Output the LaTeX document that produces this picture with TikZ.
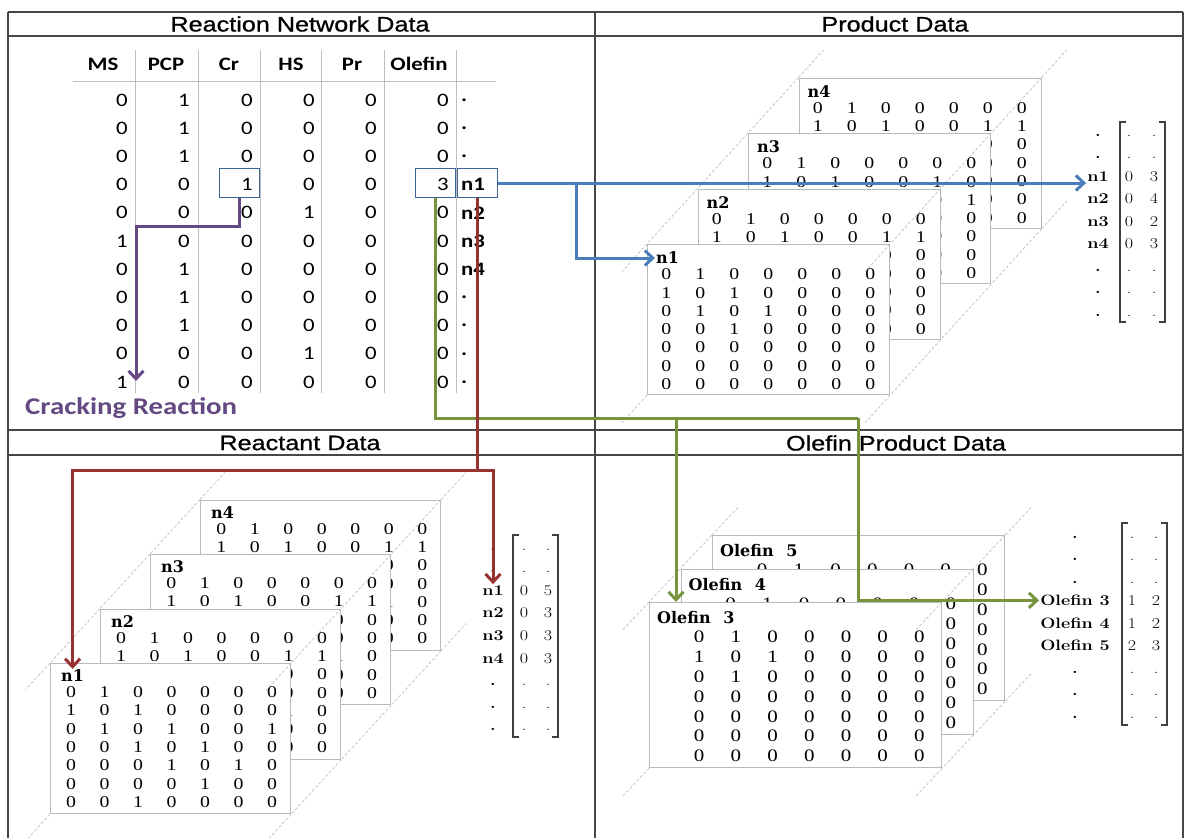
\documentclass[tikz,border=0pt]{standalone}
\usepackage{fontspec}
\newfontfamily\titlefont{Liberation Sans}[FakeStretch=1.2,FakeBold=0.8]
\newfontfamily\tabfont{Carlito}[FakeStretch=1.2]
\newfontfamily\matfont{Liberation Serif}[FakeStretch=1.2]
\newfontfamily\lblfont{DejaVu Serif}
\newfontfamily\vecfont{Latin Modern Roman}[FakeStretch=1.2]
\usetikzlibrary{arrows.meta,matrix}
\definecolor{netblue}{RGB}{74,126,187}
\definecolor{hitblue}{RGB}{60,100,150}
\definecolor{crackpurple}{RGB}{100,73,130}
\definecolor{reactred}{RGB}{150,50,48}
\definecolor{olegreen}{RGB}{119,147,60}
\definecolor{gridgray}{RGB}{190,190,190}
\definecolor{framegray}{RGB}{70,70,70}
\begin{document}
\begin{tikzpicture}[x=1pt,y=-1pt,
  >={Straight Barb[length=8pt,width=15pt]},
  frame/.style={draw=framegray, line width=1.3pt},
  title/.style={font=\titlefont\fontsize{21}{24}\selectfont, inner sep=0pt},
  colhead/.style={font=\tabfont\bfseries\fontsize{19}{22}\selectfont, inner sep=0pt},
  num/.style={font=\tabfont\fontsize{19}{22}\selectfont, inner sep=0pt, anchor=east},
  tag/.style={font=\tabfont\bfseries\fontsize{19}{22}\selectfont, inner sep=0pt, anchor=west},
  hit/.style={draw=hitblue, line width=1pt, minimum width=40pt, minimum height=29pt, inner sep=0pt},
  panel/.style={draw=gray!55, line width=1.2pt, fill=white, anchor=north west, inner sep=0pt},
  ppanel/.style={panel, minimum width=242pt, minimum height=150pt},
  rpanel/.style={panel, minimum width=240pt, minimum height=150pt},
  opanel/.style={panel, minimum width=292pt, minimum height=165pt},
  plabel/.style={font=\lblfont\bfseries\fontsize{16}{18}\selectfont, inner sep=1pt, anchor=west},
  guide/.style={draw=gray!50, line width=0.7pt, dash pattern=on 3pt off 2pt},
  pmat/.style={matrix of nodes, anchor=north west, inner sep=0pt,
    nodes={font=\matfont\fontsize{16.5}{18}\selectfont, inner sep=0pt, minimum width=34pt, minimum height=18.3pt, anchor=center}},
  rmat/.style={pmat, nodes={minimum width=33.5pt}},
  omat/.style={pmat, nodes={font=\matfont\fontsize{17.5}{19}\selectfont, minimum width=36.7pt, minimum height=19.8pt}},
  vlab/.style={font=\vecfont\bfseries\fontsize{15}{18}\selectfont, inner sep=1pt, anchor=base},
  vnum/.style={font=\vecfont\fontsize{15}{18}\selectfont, inner sep=0pt, anchor=base},
  bracket/.style={draw=black!75, line width=1.2pt},
  flowblue/.style={draw=netblue, line width=3pt},
  flowpurple/.style={draw=crackpurple, line width=3pt},
  flowred/.style={draw=reactred, line width=3pt},
  flowgreen/.style={draw=olegreen, line width=3pt}]
\fill[white] (0,0) rectangle (1187,838);
\useasboundingbox (0,0) rectangle (1187,838);

% frame
\draw[frame] (8,12) -- (1183,12);
\draw[frame] (8,36) -- (1183,36);
\draw[frame] (8,430) -- (1183,430);
\draw[frame] (8,455) -- (1183,455);
\draw[frame] (8,12) -- (8,838);
\draw[frame] (595,12) -- (595,838);
\draw[frame] (1183,12) -- (1183,838);
\node[title] (tnet) at (300,24) {Reaction Network Data};
\node[title] (tprod) at (895,24) {Product Data};
\node[title] (treac) at (300,443) {Reactant Data};
\node[title] (tole) at (896,443) {Olefin Product Data};

% reaction network table
\foreach \x in {135,198,260,321,384,456}
  \draw[gridgray, line width=1pt] (\x,50) -- (\x,393);
\draw[gridgray, line width=1pt] (73,81) -- (496,81);
\node[colhead] (hMS) at (103,64) {MS};
\node[colhead] (hPCP) at (166,64) {PCP};
\node[colhead] (hCr) at (229,64) {Cr};
\node[colhead] (hHS) at (291,64) {HS};
\node[colhead] (hPr) at (352,64) {Pr};
\node[colhead] (hOl) at (419,64) {Olefin};
\foreach \i/\xa/\xb/\xc/\xd/\xe/\xf/\tg in {0/0/1/0/0/0/0/., 1/0/1/0/0/0/0/., 2/0/1/0/0/0/0/.,
    3/0/0/1/0/0/3/n1, 4/0/0/0/1/0/0/n2, 5/1/0/0/0/0/0/n3, 6/0/1/0/0/0/0/n4,
    7/0/1/0/0/0/0/., 8/0/1/0/0/0/0/., 9/0/0/0/1/0/0/., 10/1/0/0/0/0/0/.}{
  \pgfmathsetmacro\ry{100+28.2*\i}
  \node[num] (ms\i) at (128,\ry) {\xa};
  \node[num] (pcp\i) at (190,\ry) {\xb};
  \node[num] (cr\i) at (253,\ry) {\xc};
  \node[num] (hs\i) at (315,\ry) {\xd};
  \node[num] (pr\i) at (377,\ry) {\xe};
  \node[num] (ol\i) at (449,\ry) {\xf};
  \node[tag] (tg\i) at (461,\ry) {\tg};
}
\node[hit] (hitCr) at (239,183) {};
\node[hit] (hitOl) at (435,183) {};
\node[hit] (hitN1) at (477,183) {};
\node[font=\tabfont\bfseries\fontsize{24}{27}\selectfont, text=crackpurple, anchor=base west, inner sep=0pt] (crack) at (25,414) {Cracking Reaction};

% product data stack
\node[ppanel] (pn4) at (798.5,77.5) {};
\node[plabel] (pl4) at (806.5,91.5) {n4};
\matrix[pmat] (pm4) at (800.5,98.5) {
0 & 1 & 0 & 0 & 0 & 0 & 0 \\
1 & 0 & 1 & 0 & 0 & 1 & 1 \\
0 & 1 & 0 & 1 & 0 & 0 & 0 \\
0 & 0 & 1 & 0 & 0 & 0 & 0 \\
0 & 0 & 0 & 0 & 0 & 0 & 0 \\
0 & 0 & 0 & 0 & 0 & 0 & 0 \\
0 & 0 & 0 & 0 & 0 & 0 & 0 \\
};
\foreach \c in {north west,north east,south east}
  \draw[guide] (pn4.\c) -- ++(25,-27.5);
\foreach \c in {north west,north east,south east,south west}
  \draw[guide] (pn4.\c) -- ++(-50.5,55.5);
\node[ppanel] (pn3) at (748,133) {};
\node[plabel] (pl3) at (756,147) {n3};
\matrix[pmat] (pm3) at (750,154) {
0 & 1 & 0 & 0 & 0 & 0 & 0 \\
1 & 0 & 1 & 0 & 0 & 1 & 0 \\
0 & 1 & 0 & 1 & 0 & 0 & 1 \\
0 & 0 & 1 & 0 & 0 & 0 & 0 \\
0 & 0 & 0 & 0 & 0 & 0 & 0 \\
0 & 0 & 0 & 0 & 0 & 0 & 0 \\
0 & 0 & 0 & 0 & 0 & 0 & 0 \\
};
\foreach \c in {north west,north east,south east,south west}
  \draw[guide] (pn3.\c) -- ++(-50.5,55.5);
\node[ppanel] (pn2) at (697.5,188.5) {};
\node[plabel] (pl2) at (705.5,202.5) {n2};
\matrix[pmat] (pm2) at (699.5,209.5) {
0 & 1 & 0 & 0 & 0 & 0 & 0 \\
1 & 0 & 1 & 0 & 0 & 1 & 1 \\
0 & 1 & 0 & 1 & 0 & 0 & 0 \\
0 & 0 & 1 & 0 & 0 & 0 & 0 \\
0 & 0 & 0 & 0 & 0 & 0 & 0 \\
0 & 0 & 0 & 0 & 0 & 0 & 0 \\
0 & 0 & 0 & 0 & 0 & 0 & 0 \\
};
\foreach \c in {north west,north east,south east,south west}
  \draw[guide] (pn2.\c) -- ++(-50.5,55.5);
\node[ppanel] (pn1) at (647,244) {};
\node[plabel] (pl1) at (655,258) {n1};
\matrix[pmat] (pm1) at (649,265) {
0 & 1 & 0 & 0 & 0 & 0 & 0 \\
1 & 0 & 1 & 0 & 0 & 0 & 0 \\
0 & 1 & 0 & 1 & 0 & 0 & 0 \\
0 & 0 & 1 & 0 & 0 & 0 & 0 \\
0 & 0 & 0 & 0 & 0 & 0 & 0 \\
0 & 0 & 0 & 0 & 0 & 0 & 0 \\
0 & 0 & 0 & 0 & 0 & 0 & 0 \\
};
\foreach \c in {north west,north east,south east,south west}
  \draw[guide] (pn1.\c) -- ++(-25,27.5);

% product vector
\foreach \i/\lb/\va/\vb in {0/././., 1/././., 2/n1/0/3, 3/n2/0/4, 4/n3/0/2, 5/n4/0/3, 6/././., 7/././., 8/././.}{
  \pgfmathsetmacro\vy{136+22.5*\i}
  \node[vlab] (pv\i-0) at (1098,\vy) {\lb};
  \node[vnum] (pv\i-1) at (1129,\vy) {\va};
  \node[vnum] (pv\i-2) at (1154,\vy) {\vb};
}
\draw[bracket] (1126,122) -- (1120,122) -- (1120,322) -- (1126,322);
\draw[bracket] (1159,122) -- (1165,122) -- (1165,322) -- (1159,322);

% reactant data stack
\node[rpanel] (rn4) at (200,499.5) {};
\node[plabel] (rl4) at (210,512.5) {n4};
\matrix[rmat] (rm4) at (204.25,519.35) {
0 & 1 & 0 & 0 & 0 & 0 & 0 \\
1 & 0 & 1 & 0 & 0 & 1 & 1 \\
0 & 1 & 0 & 1 & 0 & 0 & 0 \\
0 & 0 & 1 & 0 & 1 & 0 & 0 \\
0 & 0 & 0 & 1 & 0 & 1 & 0 \\
0 & 0 & 0 & 0 & 1 & 0 & 0 \\
0 & 0 & 0 & 0 & 0 & 0 & 0 \\
};
\foreach \c in {north west,north east,south east}
  \draw[guide] (rn4.\c) -- ++(25,-27.25);
\foreach \c in {north west,north east,south east,south west}
  \draw[guide] (rn4.\c) -- ++(-50,54.5);
\node[rpanel] (rn3) at (150,554) {};
\node[plabel] (rl3) at (160,567) {n3};
\matrix[rmat] (rm3) at (154.25,573.85) {
0 & 1 & 0 & 0 & 0 & 0 & 0 \\
1 & 0 & 1 & 0 & 0 & 1 & 1 \\
0 & 1 & 0 & 1 & 0 & 0 & 0 \\
0 & 0 & 1 & 0 & 1 & 0 & 0 \\
0 & 0 & 0 & 1 & 0 & 1 & 0 \\
0 & 0 & 0 & 0 & 1 & 0 & 0 \\
0 & 0 & 0 & 0 & 0 & 0 & 0 \\
};
\foreach \c in {north west,north east,south east,south west}
  \draw[guide] (rn3.\c) -- ++(-50,54.5);
\node[rpanel] (rn2) at (100,608.5) {};
\node[plabel] (rl2) at (110,621.5) {n2};
\matrix[rmat] (rm2) at (104.25,628.35) {
0 & 1 & 0 & 0 & 0 & 0 & 0 \\
1 & 0 & 1 & 0 & 0 & 1 & 1 \\
0 & 1 & 0 & 1 & 0 & 0 & 0 \\
0 & 0 & 1 & 0 & 1 & 0 & 0 \\
0 & 0 & 0 & 1 & 0 & 1 & 0 \\
0 & 0 & 0 & 0 & 1 & 0 & 0 \\
0 & 0 & 0 & 0 & 0 & 0 & 0 \\
};
\foreach \c in {north west,north east,south east,south west}
  \draw[guide] (rn2.\c) -- ++(-50,54.5);
\node[rpanel] (rn1) at (50,663) {};
\node[plabel] (rl1) at (60,676) {n1};
\matrix[rmat] (rm1) at (54.25,682.85) {
0 & 1 & 0 & 0 & 0 & 0 & 0 \\
1 & 0 & 1 & 0 & 0 & 0 & 0 \\
0 & 1 & 0 & 1 & 0 & 0 & 1 \\
0 & 0 & 1 & 0 & 1 & 0 & 0 \\
0 & 0 & 0 & 1 & 0 & 1 & 0 \\
0 & 0 & 0 & 0 & 1 & 0 & 0 \\
0 & 0 & 1 & 0 & 0 & 0 & 0 \\
};
\foreach \c in {north west,north east,south east,south west}
  \draw[guide] (rn1.\c) -- ++(-25,27.25);

% reactant vector
\foreach \i/\lb/\va/\vb in {0/././., 1/././., 2/n1/0/5, 3/n2/0/3, 4/n3/0/3, 5/n4/0/3, 6/././., 7/././., 8/././.}{
  \pgfmathsetmacro\vy{550+22.6*\i}
  \node[vlab] (rv\i-0) at (493,\vy) {\lb};
  \node[vnum] (rv\i-1) at (524,\vy) {\va};
  \node[vnum] (rv\i-2) at (548,\vy) {\vb};
}
\draw[bracket] (519,535) -- (513,535) -- (513,737) -- (519,737);
\draw[bracket] (552,535) -- (558,535) -- (558,737) -- (552,737);

% olefin product stack
\node[opanel] (on3) at (712,535) {};
\node[plabel] (oll3) at (719,551) {Olefin\hspace{0.8em}5};
\matrix[omat] (om3) at (743.65,560.1) {
0 & 1 & 0 & 0 & 0 & 0 & 0 \\
1 & 0 & 1 & 0 & 0 & 0 & 0 \\
0 & 1 & 0 & 0 & 0 & 0 & 0 \\
0 & 0 & 0 & 0 & 0 & 0 & 0 \\
0 & 0 & 0 & 0 & 0 & 0 & 0 \\
0 & 0 & 0 & 0 & 0 & 0 & 0 \\
0 & 0 & 0 & 0 & 0 & 0 & 0 \\
};
\foreach \c in {north west,north east,south east}
  \draw[guide] (on3.\c) -- ++(26,-27.6);
\foreach \c in {north west,north east,south east,south west}
  \draw[guide] (on3.\c) -- ++(-31.5,33.5);
\node[opanel] (on2) at (680.5,568.5) {};
\node[plabel] (oll2) at (687.5,584.5) {Olefin\hspace{0.8em}4};
\matrix[omat] (om2) at (712.15,593.6) {
0 & 1 & 0 & 0 & 0 & 0 & 0 \\
1 & 0 & 1 & 0 & 0 & 0 & 0 \\
0 & 1 & 0 & 0 & 0 & 0 & 0 \\
0 & 0 & 0 & 0 & 0 & 0 & 0 \\
0 & 0 & 0 & 0 & 0 & 0 & 0 \\
0 & 0 & 0 & 0 & 0 & 0 & 0 \\
0 & 0 & 0 & 0 & 0 & 0 & 0 \\
};
\foreach \c in {north west,north east,south east,south west}
  \draw[guide] (on2.\c) -- ++(-31.5,33.5);
\node[opanel] (on1) at (649,602) {};
\node[plabel] (oll1) at (656,618) {Olefin\hspace{0.8em}3};
\matrix[omat] (om1) at (680.65,627.1) {
0 & 1 & 0 & 0 & 0 & 0 & 0 \\
1 & 0 & 1 & 0 & 0 & 0 & 0 \\
0 & 1 & 0 & 0 & 0 & 0 & 0 \\
0 & 0 & 0 & 0 & 0 & 0 & 0 \\
0 & 0 & 0 & 0 & 0 & 0 & 0 \\
0 & 0 & 0 & 0 & 0 & 0 & 0 \\
0 & 0 & 0 & 0 & 0 & 0 & 0 \\
};
\foreach \c in {north west,north east,south east,south west}
  \draw[guide] (on1.\c) -- ++(-26,27.6);

% olefin vector
\foreach \i/\lb/\va/\vb in {0/././., 1/././., 2/././., 3/Olefin 3/1/2, 4/Olefin 4/1/2, 5/Olefin 5/2/3, 6/././., 7/././., 8/././.}{
  \pgfmathsetmacro\vy{538+22.5*\i}
  \node[vlab] (ov\i-0) at (1075,\vy) {\lb};
  \node[vnum] (ov\i-1) at (1132,\vy) {\va};
  \node[vnum] (ov\i-2) at (1156,\vy) {\vb};
}
\draw[bracket] (1128,523) -- (1122,523) -- (1122,725) -- (1128,725);
\draw[bracket] (1161,523) -- (1167,523) -- (1167,725) -- (1161,725);

% connectors
\coordinate (cturn) at (136,226);
\coordinate (cend) at (136,381);
\draw[flowpurple,->] (hitCr.south) |- (cturn) -- (cend);
\coordinate (gsplit) at (676,418);
\coordinate (gturn) at (858,418);
\draw[flowgreen] (hitOl.south) |- (gturn);
\draw[flowgreen,->] (gsplit) -- (gsplit |- on1.north);
\draw[flowgreen,->] (gturn) |- (ov3-0.west);
\coordinate (rsplit) at (477,470);
\draw[flowred] (hitN1.south) -- (rsplit);
\draw[flowred,->] (rsplit) -| (rl1.north);
\draw[flowred,->] (rsplit) -| (rv2-0.north);
\coordinate (bsplit) at (576,183);
\draw[flowblue,->] (hitN1.east) -- (hitN1.east -| pv2-0.west);
\draw[flowblue,->] (bsplit) |- (pl1.west);
\end{tikzpicture}
\end{document}
